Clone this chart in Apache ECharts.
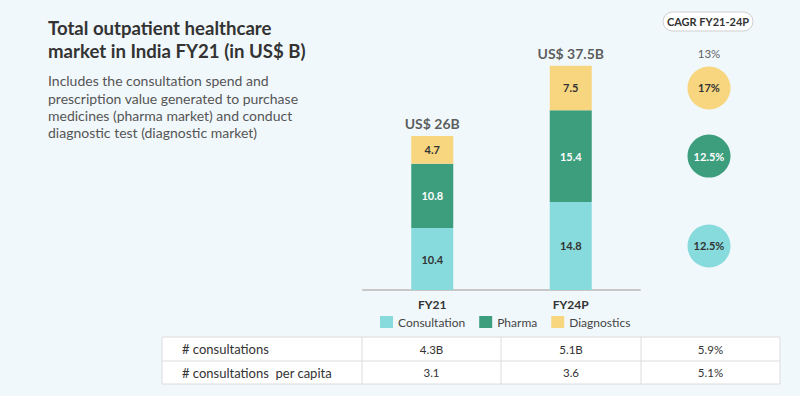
<!DOCTYPE html>
<html>
<head>
<meta charset="utf-8">
<script src="https://cdn.jsdelivr.net/npm/echarts@6/dist/echarts.min.js"></script>
<style>
  html, body { margin: 0; padding: 0; background: #fff; }
  #main { width: 800px; height: 400px; }
</style>
</head>
<body>
<div id="main"></div>
<script>
// chart data
const categories = ['FY21', 'FY24P'];
const consultation = [10.4, 14.8];
const pharma = [10.8, 15.4];
const diagnostics = [4.7, 7.5];
const totalLabels = ['US$ 26B', 'US$ 37.5B'];

// CAGR FY21-24P (consultation, pharma, diagnostics) + total
const cagrLabels = ['12.5%', '12.5%', '17%'];
const cagrTotal = '13%';

// table under the chart
const tableRows = ['# consultations', '# consultations  per capita'];
const tableFY21 = ['4.3B', '3.1'];
const tableFY24P = ['5.1B', '3.6'];
const tableCagr = ['5.9%', '5.1%'];

const colors = ['#87dbdc', '#3d9e7e', '#f7d67f'];
const font = 'Lato';

let totals = categories.map((c, i) => consultation[i] + pharma[i] + diagnostics[i]);

// circles sit on the middle of each FY24P segment
let last = categories.length - 1;
let segs = [consultation[last], pharma[last], diagnostics[last]];
let cum = 0;
let cagrData = segs.map((v, i) => {
    let mid = cum + v / 2;
    cum += v;
    return {
        value: [0, mid],
        itemStyle: { color: colors[i], opacity: 1 },
        label: { formatter: cagrLabels[i], color: i === 1 ? '#fff' : '#333' }
    };
});

function barSeries(name, data, idx, labelColor) {
    return {
        name: name,
        type: 'bar',
        stack: 'one',
        barWidth: 42,
        data: data,
        itemStyle: { color: colors[idx] },
        label: {
            show: true,
            position: 'inside',
            color: labelColor,
            fontFamily: font,
            fontWeight: 'bold',
            fontSize: 11
        }
    };
}

// table graphic
let colX = [162, 362, 501, 641, 780];
let rowY = [337, 361, 384];
let table = [];
table.push({
    type: 'rect',
    shape: { x: colX[0], y: rowY[0], width: colX[4] - colX[0], height: rowY[2] - rowY[0] },
    style: { fill: '#fff', stroke: '#dcdcdc', lineWidth: 1 }
});
for (let i = 1; i < colX.length - 1; i++) {
    table.push({ type: 'line', shape: { x1: colX[i], y1: rowY[0], x2: colX[i], y2: rowY[2] }, style: { stroke: '#dcdcdc', lineWidth: 1 } });
}
table.push({ type: 'line', shape: { x1: colX[0], y1: rowY[1], x2: colX[4], y2: rowY[1] }, style: { stroke: '#dcdcdc', lineWidth: 1 } });
tableRows.forEach((r, i) => {
    let cy = (rowY[i] + rowY[i + 1]) / 2;
    table.push({ type: 'text', x: colX[0] + 20, y: cy, style: { text: r, fill: '#333', font: '13px ' + font, textVerticalAlign: 'middle' } });
    [tableFY21[i], tableFY24P[i], tableCagr[i]].forEach((t, j) => {
        table.push({
            type: 'text', x: (colX[j + 1] + colX[j + 2]) / 2, y: cy,
            style: { text: t, fill: '#333', font: '11.5px ' + font, textAlign: 'center', textVerticalAlign: 'middle' }
        });
    });
});

let option = {
    backgroundColor: '#f1f8fc',
    animation: false,
    title: {
        text: 'Total outpatient healthcare\nmarket in India FY21 (in US$ B)',
        subtext: 'Includes the consultation spend and\nprescription value generated to purchase\nmedicines (pharma market) and conduct\ndiagnostic test (diagnostic market)',
        left: 43,
        top: 11,
        itemGap: 10,
        textStyle: { fontFamily: font, fontSize: 18.6, fontWeight: 'bold', color: '#333', lineHeight: 23 },
        subtextStyle: { fontFamily: font, fontSize: 14, color: '#555', lineHeight: 17.4 }
    },
    legend: {
        data: [
            { name: 'Consultation', textStyle: { width: 72 } },
            'Pharma',
            'Diagnostics'
        ],
        left: 375,
        top: 311,
        icon: 'rect',
        itemWidth: 13,
        itemHeight: 12,
        itemGap: 14,
        textStyle: { fontFamily: font, fontSize: 12, color: '#444' }
    },
    grid: [
        { left: 363, width: 277, top: 52, bottom: 110 },
        { left: 640, width: 138, top: 52, bottom: 110 }
    ],
    xAxis: [
        {
            type: 'category', gridIndex: 0, data: categories,
            axisLine: { lineStyle: { color: '#c8c8c8', width: 2 } },
            axisTick: { show: false },
            axisLabel: { color: '#333', fontFamily: font, fontWeight: 'bold', fontSize: 12, margin: 8 }
        },
        {
            type: 'category', gridIndex: 1, data: ['CAGR'],
            show: false
        }
    ],
    yAxis: [
        { type: 'value', gridIndex: 0, min: 0, max: 40, show: false, splitLine: { show: false } },
        { type: 'value', gridIndex: 1, min: 0, max: 40, show: false, splitLine: { show: false } }
    ],
    series: [
        barSeries('Consultation', consultation, 0, '#333'),
        barSeries('Pharma', pharma, 1, '#fff'),
        barSeries('Diagnostics', diagnostics, 2, '#333'),
        {
            name: 'total',
            type: 'scatter',
            symbolSize: 0,
            data: totals.map((t, i) => [i, t]),
            label: {
                show: true,
                position: 'top',
                distance: 5,
                formatter: p => totalLabels[p.dataIndex],
                color: '#333',
                fontFamily: font,
                fontWeight: 'bold',
                fontSize: 14
            }
        },
        {
            name: 'cagr',
            type: 'scatter',
            xAxisIndex: 1,
            yAxisIndex: 1,
            symbolSize: 43,
            data: cagrData,
            label: { show: true, position: 'inside', fontFamily: font, fontWeight: 'bold', fontSize: 11 }
        },
        {
            name: 'cagrTotal',
            type: 'scatter',
            xAxisIndex: 1,
            yAxisIndex: 1,
            symbolSize: 0,
            data: [[0, totals[last]]],
            label: {
                show: true,
                position: 'top',
                distance: 6,
                formatter: cagrTotal,
                color: '#333',
                fontFamily: font,
                fontSize: 11.5
            }
        }
    ],
    graphic: [
        { type: 'rect', shape: { x: 0, y: 396, width: 800, height: 4 }, style: { fill: '#fff' }, z: -1 },
        {
            type: 'rect',
            shape: { x: 663, y: 12, width: 90, height: 19, r: 9.5 },
            style: { fill: '#fff', stroke: '#cfcfcf', lineWidth: 1 }
        },
        {
            type: 'text', x: 708, y: 21.5,
            style: { text: 'CAGR FY21-24P', fill: '#333', font: 'bold 11px ' + font, textAlign: 'center', textVerticalAlign: 'middle' }
        }
    ].concat(table)
};

let myChart = echarts.init(document.getElementById('main'), null, { renderer: 'svg' });
myChart.setOption(option);
</script>
</body>
</html>
